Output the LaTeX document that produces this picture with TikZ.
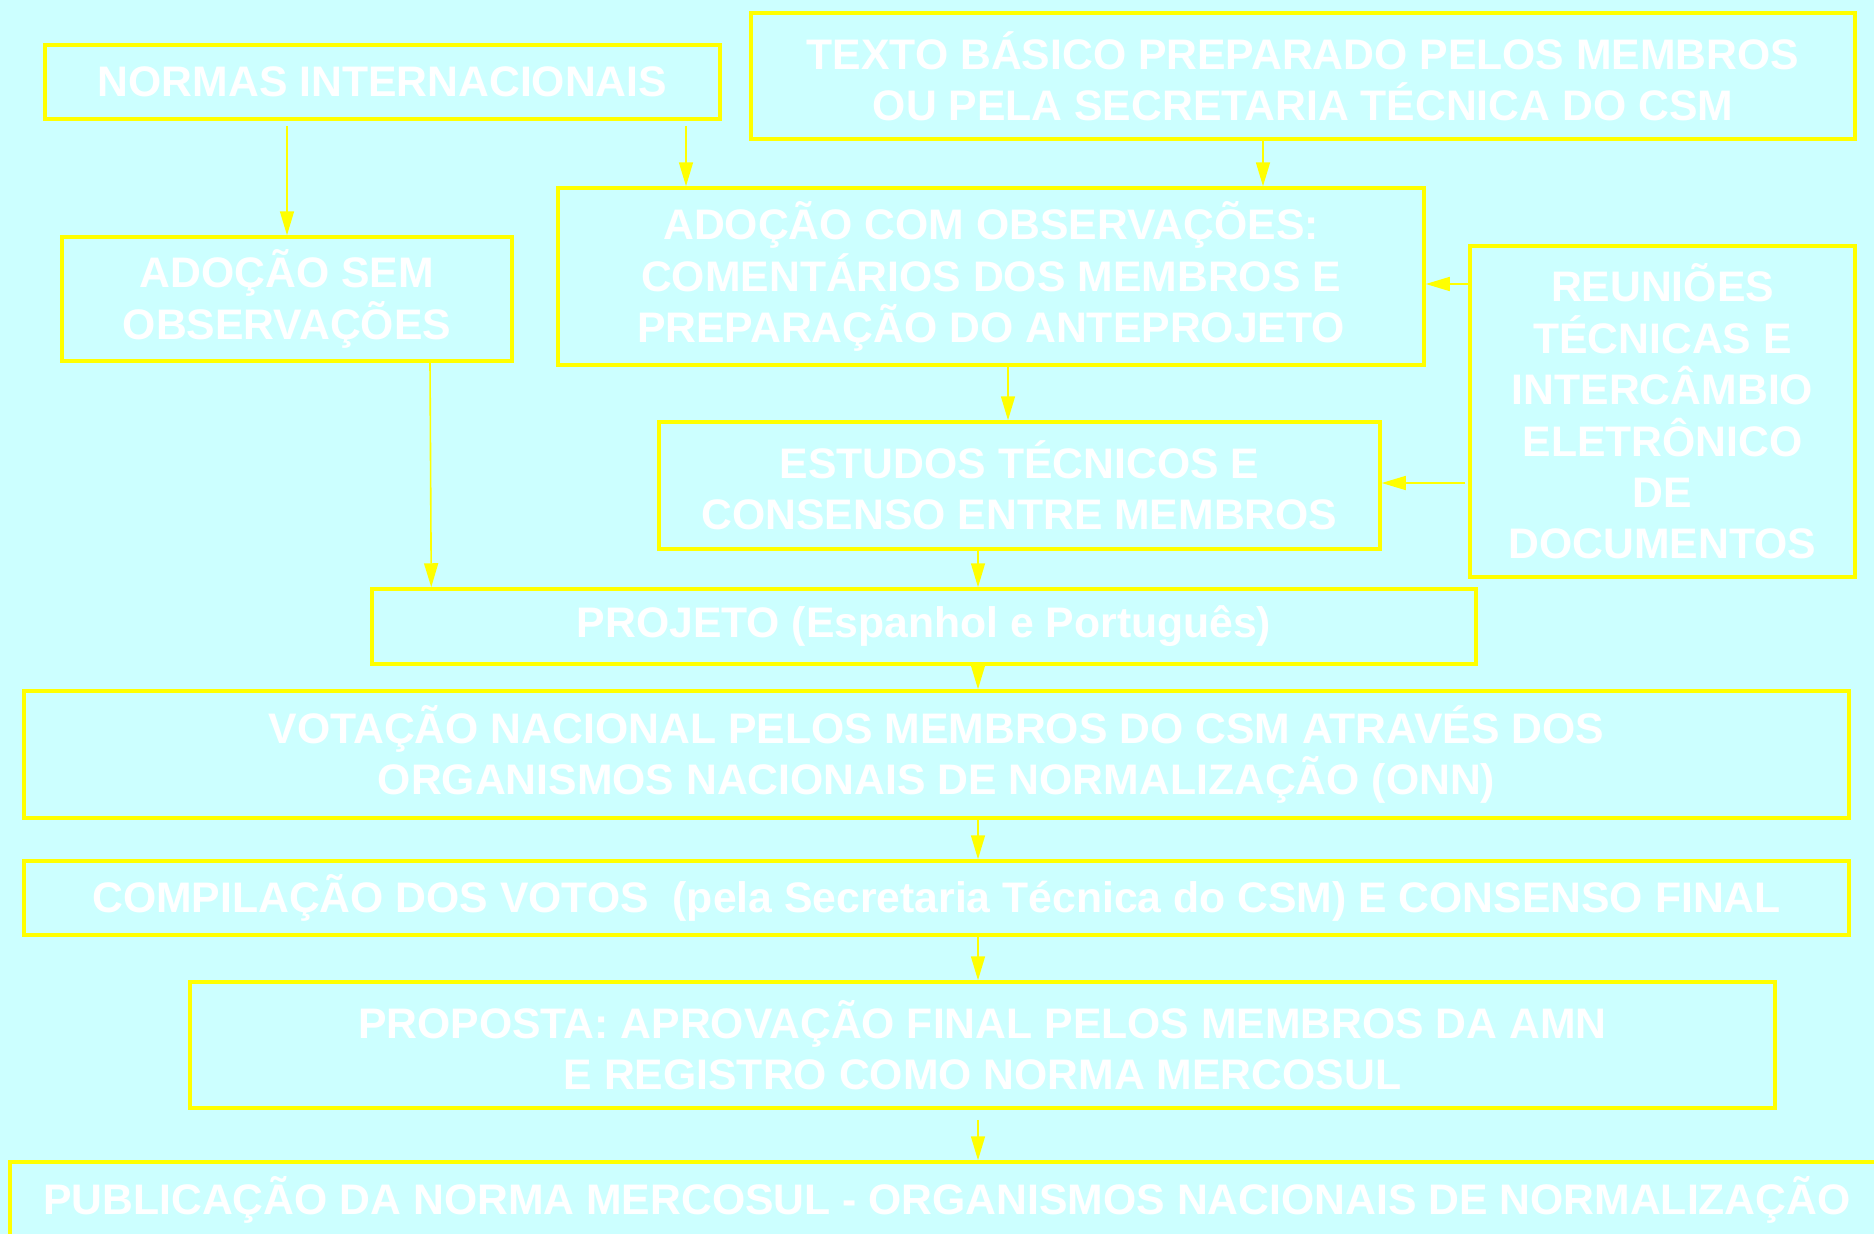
\documentclass[tikz,border=0pt]{standalone}
\usepackage{fontspec}
\setmainfont{Liberation Sans}
\usetikzlibrary{positioning,arrows.meta}
\definecolor{bgcyan}{HTML}{CCFFFF}
\definecolor{lineyellow}{HTML}{FFFF00}

\begin{document}
\begin{tikzpicture}[x=1pt, y=-1pt,
    stage/.style={draw=lineyellow, line width=3.5pt, text=white, align=center,
                  font=\fontsize{42.7}{51.4}\selectfont\bfseries, inner sep=0pt},
    flow/.style={lineyellow, line width=1.6pt,
                 -{Triangle[length=24pt, width=14pt]}},
]
\fill[bgcyan] (0,0) rectangle (1874,1234);
\useasboundingbox (0,0) rectangle (1874,1234);

% top row
\node[stage, minimum width=675pt, minimum height=74pt]
    (normas) at (382.5,82) {NORMAS INTERNACIONAIS};
\node[stage, minimum width=1104pt, minimum height=126pt]
    (texto) at (1303,76)
    {TEXTO BÁSICO PREPARADO PELOS MEMBROS\\OU PELA SECRETARIA TÉCNICA DO CSM};

% adoption
\node[stage, minimum width=450pt, minimum height=124pt]
    (semobs) at (287,299) {ADOÇÃO SEM\\OBSERVAÇÕES};
\node[stage, minimum width=866pt, minimum height=177pt]
    (comobs) at (991,276.5)
    {ADOÇÃO COM OBSERVAÇÕES:\\COMENTÁRIOS DOS MEMBROS E\\PREPARAÇÃO DO ANTEPROJETO};
\node[stage, minimum width=385pt, minimum height=331pt]
    (reunioes) at (1662.5,411.5)
    {REUNIÕES\\TÉCNICAS E\\INTERCÂMBIO\\ELETRÔNICO\\DE\\DOCUMENTOS};
\node[stage, minimum width=721pt, minimum height=127pt]
    (estudos) at (1019.5,485.5) {ESTUDOS TÉCNICOS E\\CONSENSO ENTRE MEMBROS};

% main column
\node[stage, minimum width=1104pt, minimum height=75pt]
    (projeto) at (924,626.5) {PROJETO (Espanhol e Português)};
\node[stage, minimum width=1825pt, minimum height=127pt]
    (votacao) at (936.5,754.5)
    {VOTAÇÃO NACIONAL PELOS MEMBROS DO CSM ATRAVÉS DOS\\ORGANISMOS NACIONAIS DE NORMALIZAÇÃO (ONN)};
\node[stage, minimum width=1825pt, minimum height=74pt]
    (compila) at (936.5,898)
    {COMPILAÇÃO DOS VOTOS\ \ (pela Secretaria Técnica do CSM) E CONSENSO FINAL};
\node[stage, minimum width=1585pt, minimum height=126pt]
    (proposta) at (982.5,1045)
    {PROPOSTA: APROVAÇÃO FINAL PELOS MEMBROS DA AMN\\E REGISTRO COMO NORMA MERCOSUL};
\node[stage, minimum width=1874pt, minimum height=76pt]
    (publica) at (947,1200)
    {PUBLICAÇÃO DA NORMA MERCOSUL - ORGANISMOS NACIONAIS DE NORMALIZAÇÃO};

% connectors
\coordinate (c1) at (686,0);
\coordinate (c2) at (1263,0);
\coordinate (c3) at (1008,0);
\coordinate (midx) at (978,0);
\coordinate (r1) at (0,284);
\coordinate (r2) at (0,483);

\draw[flow] ([yshift=-5pt]normas.south -| semobs.north) -- (semobs.north);
\draw[flow] ([yshift=-5pt]normas.south -| c1) -- (c1 |- comobs.north);
\draw[flow] (texto.south -| c2) -- (c2 |- comobs.north);
\draw[flow] ([xshift=143pt]semobs.south) -- ([xshift=61pt]projeto.north west);
\draw[flow] (comobs.south -| c3) -- (c3 |- estudos.north);
\draw[flow] (reunioes.west |- r1) -- (comobs.east |- r1);
\draw[flow] ([xshift=-3pt]reunioes.west |- r2) -- (estudos.east |- r2);
\draw[flow] (estudos.south -| midx) -- (midx |- projeto.north);
\draw[flow] (projeto.south -| midx) -- (midx |- votacao.north);
\draw[flow] (votacao.south -| midx) -- (midx |- compila.north);
\draw[flow] (compila.south -| midx) -- (midx |- proposta.north);
\draw[flow] ([yshift=-10pt]proposta.south -| midx) -- (midx |- publica.north);
\end{tikzpicture}
\end{document}
